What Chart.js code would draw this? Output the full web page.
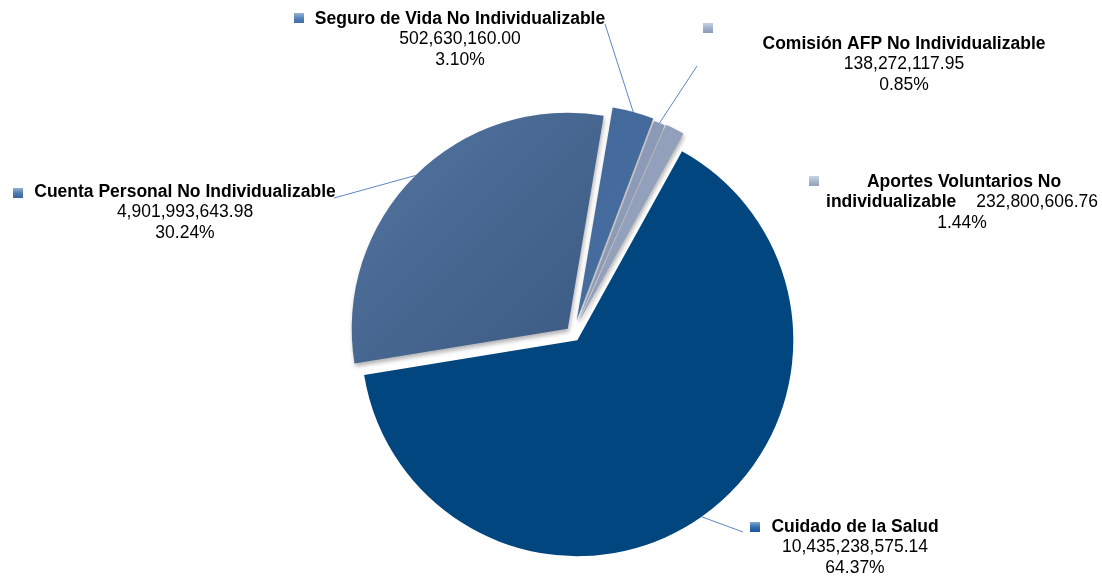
<!DOCTYPE html>
<html>
<head>
<meta charset="utf-8">
<script src="https://cdn.jsdelivr.net/npm/chart.js@4/dist/chart.umd.min.js"></script>
<style>
  html, body { margin: 0; padding: 0; background: #ffffff; }
  #wrap { width: 1102px; height: 576px; position: relative; }
</style>
</head>
<body>
<div id="wrap"><canvas id="pie"></canvas></div>
<script>
// Fondos no individualizables: categorías y montos
const categories = [
  'Cuidado de la Salud',
  'Cuenta Personal No Individualizable',
  'Seguro de Vida No Individualizable',
  'Comisión AFP No Individualizable',
  'Aportes Voluntarios No individualizable'
];
const amounts = [10435238575.14, 4901993643.98, 502630160.00, 138272117.95, 232800606.76];

// Estilo de cada porción: degradado (inicio, fin), color del marcador y separación del centro en px
const sliceFills = [
  ['#02467f', '#00437d'],
  ['#53759f', '#37557f'],
  ['#3e6497', '#4a70a2'],
  ['#8190b0', '#93a1bc'],
  ['#8a99b6', '#97a4be']
];
const markerFills = ['#1d5ea8', '#3e6ea6', '#4577b5', '#98a9c6', '#a2b1cb'];
const explode = [7.5, 7.5, 14, 12, 13];
const castsShadow = [false, true, true, true, true];

// Ubicación de las etiquetas (centro del texto, marcador, inicio de la línea guía)
const labelLayout = [
  { cx: 855, y: 527, marker: [750, 522], leader: [743, 532], wrap: null },
  { cx: 185, y: 192, marker: [13, 188], leader: [334, 198], wrap: null },
  { cx: 460, y: 19, marker: [294, 13], leader: [605, 24], wrap: null },
  { cx: 904, y: 44, marker: [703, 23], leader: [697, 66], wrap: null },
  { cx: 962, y: 182, marker: [809, 176], leader: null, wrap: 3 }
];

const total = amounts.reduce((a, b) => a + b, 0);
const fmtAmount = v => v.toLocaleString('en-US', { minimumFractionDigits: 2, maximumFractionDigits: 2 });
const fmtPct = v => (v / total * 100).toFixed(2) + '%';

const FONT = '"Liberation Sans", Arial, sans-serif';
const SIZE = 17.5;
const LINE = 20.5;

function pieBox(chart) {
  const arc = chart.getDatasetMeta(0).data[0];
  return { x: arc.x, y: arc.y, r: arc.outerRadius };
}

function sliceGradient(context) {
  const chart = context.chart;
  const i = context.dataIndex;
  const meta = chart.getDatasetMeta(0);
  if (!chart.chartArea || !meta.data[0] || !meta.data[0].outerRadius) return sliceFills[i][0];
  const b = pieBox(chart);
  const g = chart.ctx.createLinearGradient(b.x - b.r, b.y - b.r, b.x + b.r * 0.3, b.y + b.r * 0.3);
  g.addColorStop(0, sliceFills[i][0]);
  g.addColorStop(1, sliceFills[i][1]);
  return g;
}

// Porciones separadas del centro, con sombra suave
const explodedSlices = {
  id: 'explodedSlices',
  beforeDatasetDraw(chart, args) {
    const ctx = chart.ctx;
    args.meta.data.forEach((arc, i) => {
      const mid = (arc.startAngle + arc.endAngle) / 2;
      ctx.save();
      ctx.translate(Math.cos(mid) * explode[i], Math.sin(mid) * explode[i]);
      if (castsShadow[i]) {
        ctx.shadowColor = 'rgba(0,0,0,0.3)';
        ctx.shadowBlur = 4;
        ctx.shadowOffsetX = 1;
        ctx.shadowOffsetY = 3;
      }
      arc.draw(ctx);
      ctx.restore();
    });
    return false;
  }
};

function drawMarker(ctx, x, y, color) {
  const s = 10;
  ctx.fillStyle = color;
  ctx.fillRect(x, y, s, s);
  const g = ctx.createLinearGradient(x, y, x, y + s);
  g.addColorStop(0, 'rgba(255,255,255,0.45)');
  g.addColorStop(0.5, 'rgba(255,255,255,0.1)');
  g.addColorStop(1, 'rgba(0,0,0,0.08)');
  ctx.fillStyle = g;
  ctx.fillRect(x, y, s, s);
}

// Etiquetas con nombre, monto y porcentaje, más las líneas guía
const sliceLabels = {
  id: 'sliceLabels',
  afterDatasetsDraw(chart) {
    const ctx = chart.ctx;
    const meta = chart.getDatasetMeta(0);
    ctx.save();
    ctx.textBaseline = 'middle';
    ctx.fillStyle = '#000000';
    labelLayout.forEach((L, i) => {
      const arc = meta.data[i];
      const mid = (arc.startAngle + arc.endAngle) / 2;
      // línea guía hasta el borde de la porción
      if (L.leader) {
        const ex = arc.x + Math.cos(mid) * (arc.outerRadius + explode[i]);
        const ey = arc.y + Math.sin(mid) * (arc.outerRadius + explode[i]);
        ctx.strokeStyle = '#5a87c0';
        ctx.lineWidth = 1;
        ctx.beginPath();
        ctx.moveTo(L.leader[0], L.leader[1]);
        ctx.lineTo(ex, ey);
        ctx.stroke();
      }
      drawMarker(ctx, L.marker[0], L.marker[1], markerFills[i]);
      ctx.fillStyle = '#000000';
      const amt = fmtAmount(amounts[i]);
      const pct = fmtPct(amounts[i]);
      if (L.wrap === null) {
        ctx.textAlign = 'center';
        ctx.font = 'bold ' + SIZE + 'px ' + FONT;
        ctx.fillText(categories[i], L.cx, L.y);
        ctx.font = SIZE + 'px ' + FONT;
        ctx.fillText(amt, L.cx, L.y + LINE);
        ctx.fillText(pct, L.cx, L.y + LINE * 2);
      } else {
        const words = categories[i].split(' ');
        const first = words.slice(0, L.wrap).join(' ');
        const rest = words.slice(L.wrap).join(' ');
        ctx.textAlign = 'center';
        ctx.font = 'bold ' + SIZE + 'px ' + FONT;
        ctx.fillText(first, L.cx + 2, L.y);
        // segunda línea: resto del nombre y el monto
        const boldW = ctx.measureText(rest).width;
        ctx.font = SIZE + 'px ' + FONT;
        const gap = 20;
        const amtW = ctx.measureText(amt).width;
        const start = L.cx - (boldW + gap + amtW) / 2;
        ctx.textAlign = 'left';
        ctx.font = 'bold ' + SIZE + 'px ' + FONT;
        ctx.fillText(rest, start, L.y + LINE);
        ctx.font = SIZE + 'px ' + FONT;
        ctx.fillText(amt, start + boldW + gap, L.y + LINE);
        ctx.textAlign = 'center';
        ctx.fillText(pct, L.cx, L.y + LINE * 2);
      }
    });
    ctx.restore();
  }
};

new Chart(document.getElementById('pie'), {
  type: 'pie',
  data: {
    labels: categories,
    datasets: [{
      data: amounts,
      backgroundColor: sliceGradient,
      borderWidth: 0
    }]
  },
  options: {
    responsive: true,
    maintainAspectRatio: false,
    animation: false,
    rotation: 29,
    radius: 216,
    layout: { padding: { left: 44, top: 92, right: 0, bottom: 0 } },
    plugins: {
      legend: { display: false },
      tooltip: { enabled: false }
    }
  },
  plugins: [explodedSlices, sliceLabels]
});
</script>
</body>
</html>
